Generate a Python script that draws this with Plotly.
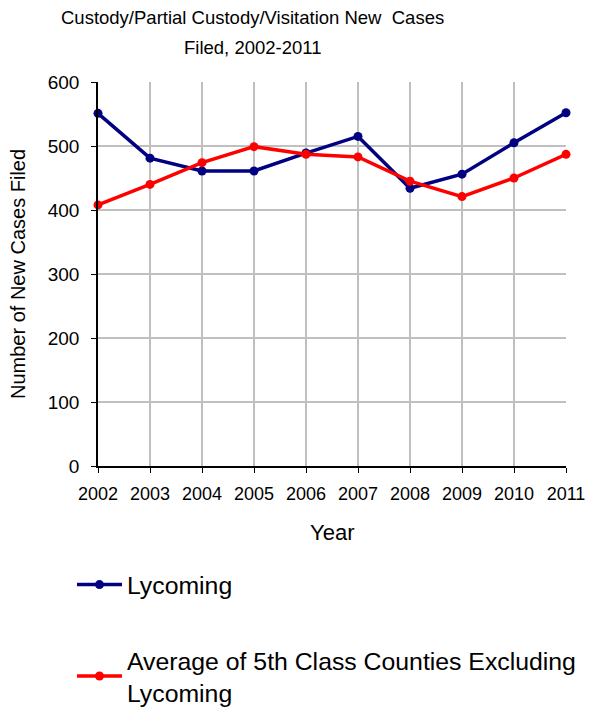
import plotly.graph_objects as go

years = [2002, 2003, 2004, 2005, 2006, 2007, 2008, 2009, 2010, 2011]
lycoming = [551, 481, 461, 461, 489, 515, 434, 456, 505, 552]
average_5th = [408, 440, 474, 499, 487, 483, 445, 421, 450, 487]

series_names = ["Lycoming", "Average of 5th Class Counties Excluding<br>Lycoming"]
title_lines = ["Custody/Partial Custody/Visitation New  Cases", "Filed, 2002-2011"]
x_title = "Year"
y_title = "Number of New Cases Filed"

FONT = "Liberation Sans, Arial, sans-serif"

fig = go.Figure()
fig.add_trace(go.Scatter(
    x=years, y=lycoming, name=series_names[0], mode="lines+markers",
    line=dict(color="#000080", width=3.5), marker=dict(size=9, color="#000080"),
    legendgroup="a", cliponaxis=False))
fig.add_trace(go.Scatter(
    x=years, y=average_5th, name=series_names[1], mode="lines+markers",
    line=dict(color="#FF0000", width=3.5), marker=dict(size=9, color="#FF0000"),
    legendgroup="b", cliponaxis=False))

# Title lines, axis titles as annotations
fig.add_annotation(text=title_lines[0], xref="paper", yref="paper", x=0.331, y=(458 - 10) / 384,
                   xanchor="center", yanchor="middle", showarrow=False, font=dict(size=18.5))
fig.add_annotation(text=title_lines[1], xref="paper", yref="paper", x=0.331, y=(458 - 39) / 384,
                   xanchor="center", yanchor="middle", showarrow=False, font=dict(size=18.5))
fig.add_annotation(text=x_title, xref="paper", yref="paper", x=0.5, y=-(524 - 458) / 384,
                   xanchor="center", yanchor="middle", showarrow=False, font=dict(size=22))
fig.add_annotation(text=y_title, xref="paper", yref="paper", x=-80 / 468, y=0.5, textangle=-90,
                   xanchor="center", yanchor="middle", showarrow=False, font=dict(size=20))

fig.update_layout(
    width=596, height=700,
    margin=dict(l=90, r=38, t=74, b=242, autoexpand=False),
    paper_bgcolor="white", plot_bgcolor="white",
    font=dict(family=FONT, color="black"),
    xaxis=dict(range=[2002, 2011], tickmode="array", tickvals=years,
               ticktext=[str(y) for y in years],
               showgrid=True, gridcolor="#C0C0C0", gridwidth=2,
               showline=True, linecolor="black", linewidth=1.5,
               ticks="outside", ticklen=5, tickcolor="black", ticklabelstandoff=6,
               tickfont=dict(size=18), zeroline=False),
    yaxis=dict(range=[0, 600], tickvals=[0, 100, 200, 300, 400, 500, 600],
               showgrid=True, gridcolor="#C0C0C0", gridwidth=2,
               showline=True, linecolor="black", linewidth=1.5,
               ticks="outside", ticklen=5, tickcolor="black", ticklabelstandoff=8,
               tickfont=dict(size=19), zeroline=False),
    showlegend=True,
    legend=dict(x=-0.0556, xanchor="left", y=-0.25, yanchor="top",
                font=dict(size=24.8), traceorder="grouped", tracegroupgap=40,
                itemwidth=45, bgcolor="rgba(0,0,0,0)"),
)

fig.write_html("out.html")
